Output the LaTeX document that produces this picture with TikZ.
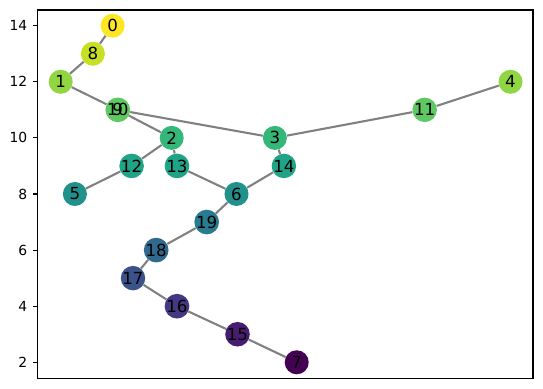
\documentclass[tikz,border=0pt]{standalone}
\usepackage{fontspec}
\setmainfont{DejaVu Sans}
\usepackage{xcolor}
\usepackage{tikz}

% viridis shades, named by the y value they sit on
\definecolor{vir2}{HTML}{440154}
\definecolor{vir3}{HTML}{481C6E}
\definecolor{vir4}{HTML}{453781}
\definecolor{vir5}{HTML}{3B528B}
\definecolor{vir6}{HTML}{31688E}
\definecolor{vir7}{HTML}{297B8E}
\definecolor{vir8}{HTML}{21918C}
\definecolor{vir9}{HTML}{20A386}
\definecolor{vir10}{HTML}{35B779}
\definecolor{vir11}{HTML}{5EC962}
\definecolor{vir12}{HTML}{90D643}
\definecolor{vir13}{HTML}{C8E023}
\definecolor{vir14}{HTML}{FDE725}

\begin{document}
\begin{tikzpicture}[
    x=0.72pt, y=20.196pt,
    every node/.style={font=\fontsize{12pt}{14pt}\selectfont},
    vertex/.style={circle, inner sep=0pt, minimum size=17.3pt},
    link/.style={draw=gray, line width=1.5pt},
    frame/.style={draw=black, line width=0.8pt},
    ticklabel/.style={font=\fontsize{10pt}{12pt}\selectfont, anchor=east, inner sep=0pt}
]
\useasboundingbox (0,1.048) rectangle (543,14.916);

% axes box and y ticks
\draw[frame] (37.5,1.416) rectangle (533,14.56);
\foreach \v in {2,4,...,14}
    \draw[frame] (37.5,\v) -- ++(-3.5pt,0) node[ticklabel, xshift=-3.5pt] {\v};

% vertices
\node[vertex, fill=vir14] (n0) at (112.6,14) {0};
\node[vertex, fill=vir13] (n8) at (92.9,13) {8};
\node[vertex, fill=vir12] (n1) at (60.7,12) {1};
\node[vertex, fill=vir12] (n4) at (510.5,12) {4};
\node[vertex, fill=vir11] (n10) at (117.8,11) {10};
\node[vertex] (n9) at (n10) {9};
\node[vertex, fill=vir11] (n11) at (424.7,11) {11};
\node[vertex, fill=vir10] (n2) at (171.7,10) {2};
\node[vertex, fill=vir10] (n3) at (274.9,10) {3};
\node[vertex, fill=vir9] (n12) at (131.6,9) {12};
\node[vertex, fill=vir9] (n13) at (177,9) {13};
\node[vertex, fill=vir9] (n14) at (283.9,9) {14};
\node[vertex, fill=vir8] (n5) at (74.9,8) {5};
\node[vertex, fill=vir8] (n6) at (236.5,8) {6};
\node[vertex, fill=vir7] (n19) at (206.7,7) {19};
\node[vertex, fill=vir6] (n18) at (156.2,6) {18};
\node[vertex, fill=vir5] (n17) at (133,5) {17};
\node[vertex, fill=vir4] (n16) at (177,4) {16};
\node[vertex, fill=vir3] (n15) at (237.5,3) {15};
\node[vertex, fill=vir2] (n7) at (296.7,2) {7};

% edges
\draw[link] (n0) -- (n8) -- (n1) -- (n10);
\draw[link] (n9) -- (n2);
\draw[link] (n10) -- (n3) -- (n11) -- (n4);
\draw[link] (n2) -- (n12) -- (n5);
\draw[link] (n2) -- (n13) -- (n6);
\draw[link] (n3) -- (n14) -- (n6);
\draw[link] (n6) -- (n19) -- (n18) -- (n17) -- (n16) -- (n15) -- (n7);
\end{tikzpicture}
\end{document}
